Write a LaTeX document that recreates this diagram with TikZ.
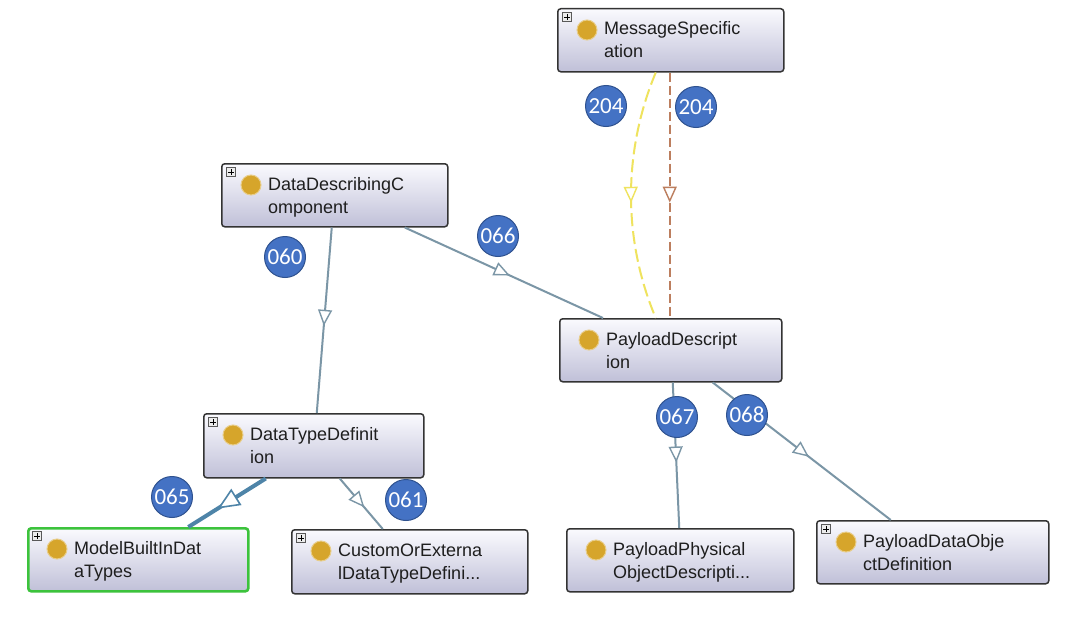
\documentclass[tikz,border=0pt]{standalone}
\usepackage{fontspec}
\setmainfont{Liberation Sans}
\newfontfamily\badgefont{Carlito}
\usetikzlibrary{arrows.meta,decorations.markings,calc}
\definecolor{nodetop}{HTML}{FAFAFE}
\definecolor{nodebot}{HTML}{C0C0D8}
\definecolor{nodeborder}{HTML}{333333}
\definecolor{dotcol}{HTML}{D6A52B}
\definecolor{edgecol}{HTML}{7B96A6}
\definecolor{thickcol}{HTML}{4E84A8}
\definecolor{badgefill}{HTML}{4472C4}
\definecolor{badgeline}{HTML}{2F528F}
\definecolor{yellowcol}{HTML}{EFE35E}
\definecolor{browncol}{HTML}{BC7E5E}
\definecolor{greenborder}{HTML}{3CC33C}
\definecolor{txtcol}{HTML}{1E1E1E}
\tikzset{
  clsbox/.style={draw=nodeborder, line width=1.5pt, rounded corners=3pt,
    top color=nodetop, bottom color=nodebot, inner sep=0pt},
  dotnode/.style={circle, fill=dotcol, draw=dotcol!55!white, line width=1pt,
    minimum size=20pt, inner sep=0pt},
  lbl/.style={inner sep=0pt, anchor=base west, text=txtcol,
    font=\fontsize{18}{22}\selectfont},
  plusbox/.style={draw=gray!70!black, fill=gray!15, line width=0.6pt,
    minimum size=9pt, inner sep=0pt},
  badge/.style={circle, fill=badgefill, draw=badgeline, line width=1pt,
    minimum size=41pt, inner sep=0pt, text=white,
    font=\badgefont\fontsize{23}{23}\selectfont},
  midtri/.style={postaction={decorate}, decoration={markings,
    mark=at position #1 with {\arrow{Triangle[length=16pt,width=14pt,fill=white,line width=1.4pt]}}}},
  midtri/.default=0.55,
  bigtri/.style={postaction={decorate}, decoration={markings,
    mark=at position #1 with {\arrow{Triangle[length=22pt,width=19pt,fill=white,line width=1.6pt]}}}},
  bigtri/.default=0.6,
  isa/.style={draw=edgecol, line width=2pt},
}
\newcommand\clsnode[8][]{%
  \node[clsbox, #1, minimum width=#5, minimum height=#6, anchor=north west] (#2) at (#3,#4) {};
  \node[dotnode] (#2-dot) at ([xshift=30,yshift=-22]#2.north west) {};
  \node[lbl] (#2-a) at ([xshift=47,yshift=-27]#2.north west) {#7};
  \node[lbl] (#2-b) at ([xshift=47,yshift=-50]#2.north west) {#8};
}
\newcommand\plusicon[1]{%
  \node[plusbox] (#1-plus) at ([xshift=10,yshift=-9]#1.north west) {};
  \draw[line width=0.9pt] ([xshift=-3]#1-plus.center) -- ([xshift=3]#1-plus.center)
    ([yshift=-3]#1-plus.center) -- ([yshift=3]#1-plus.center);
}
\begin{document}
\begin{tikzpicture}[x=1pt,y=-1pt]
\fill[white] (0,0) rectangle (1075,618);
\useasboundingbox (0,0) rectangle (1075,618);

\clsnode{msg}{557}{8}{226}{63}{MessageSpecific}{ation}
\plusicon{msg}
\clsnode{ddc}{221}{163}{226}{63}{DataDescribingC}{omponent}
\plusicon{ddc}
\clsnode{pd}{559}{318}{222}{63}{PayloadDescript}{ion}
\clsnode{dtd}{203}{413}{220}{64}{DataTypeDefinit}{ion}
\plusicon{dtd}
\clsnode[draw=greenborder, line width=2.6pt]{mb}{27}{527}{220}{63}{ModelBuiltInDat}{aTypes}
\plusicon{mb}
\clsnode{coe}{291}{529}{236}{64}{CustomOrExterna}{lDataTypeDefini...}
\plusicon{coe}
\clsnode{ppo}{566}{528}{227}{63}{PayloadPhysical}{ObjectDescripti...}
\clsnode{pdo}{816}{520}{232}{63}{PayloadDataObje}{ctDefinition}
\plusicon{pdo}

% edges
\draw[draw=yellowcol, line width=2pt, dash pattern=on 13pt off 5pt, midtri=0.53]
  ([xshift=-15]msg.south) .. controls +(-33,79) and +(-33,-78) .. ([xshift=-15]pd.north);
\draw[draw=browncol, line width=2pt, dash pattern=on 9pt off 4pt, midtri=0.53]
  ([xshift=-1]msg.south) -- ([xshift=-1]pd.north);
\draw[isa, midtri=0.53] ([xshift=70]ddc.south) -- ([xshift=44]pd.north west);
\draw[isa, midtri=0.53] ([xshift=-3]ddc.south) -- ([xshift=3]dtd.north);
\draw[draw=thickcol, line width=4pt, bigtri=0.62] ([xshift=-48]dtd.south) -- ([xshift=50]mb.north);
\draw[isa, midtri=0.57] ([xshift=26]dtd.south) -- ([xshift=-27]coe.north);
\draw[isa, midtri=0.55] ([xshift=2]pd.south) -- ([xshift=-1]ppo.north);
\draw[isa, midtri=0.54] ([xshift=42]pd.south) -- ([xshift=-42]pdo.north);

% badges
\node[badge] (b204a) at (606,106) {204};
\node[badge] (b204b) at (696,107) {204};
\node[badge] (b060) at (285,257) {060};
\node[badge] (b066) at (498,236) {066};
\node[badge] (b065) at (172,497) {065};
\node[badge] (b061) at (406,500) {061};
\node[badge] (b067) at (677,417) {067};
\node[badge] (b068) at (747,415) {068};
\end{tikzpicture}
\end{document}
